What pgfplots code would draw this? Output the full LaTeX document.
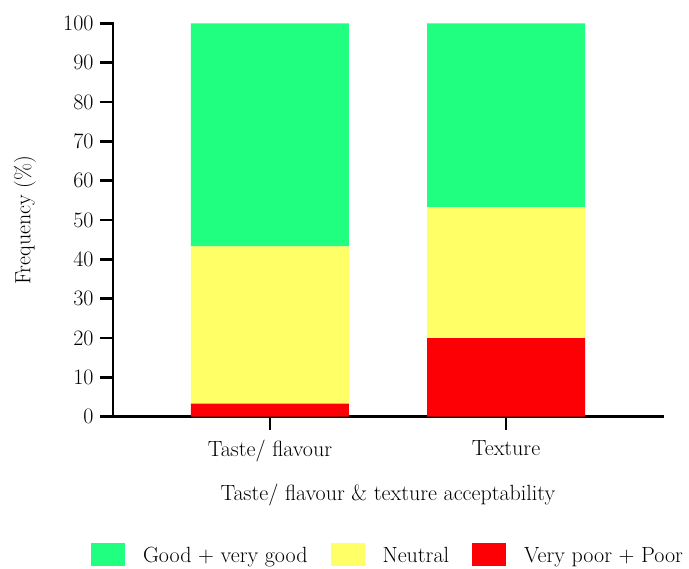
\documentclass[border=0pt]{standalone}
\usepackage{pgfplots}
\pgfplotsset{compat=1.18}
\definecolor{cgood}{RGB}{33,255,128}
\definecolor{cneut}{RGB}{255,255,102}
\definecolor{cpoor}{RGB}{252,0,6}
\newcommand{\ff}{\fontsize{22}{25}\selectfont}
\begin{document}
\begin{tikzpicture}
\path[use as bounding box] (0,0) rectangle (689pt,569pt);
\begin{axis}[
  at={(113pt,152.3pt)}, anchor=south west,
  scale only axis, width=550pt, height=393.4pt,
  xmin=-0.665, xmax=1.665, ymin=0, ymax=100,
  ybar stacked, bar width=158pt,
  axis x line*=bottom, axis y line*=left,
  axis line style={line width=2.6pt, line cap=rect},
  every tick/.style={black, line width=2.6pt},
  major tick length=13pt, tick align=outside,
  xtick={0,1}, xticklabels={Taste/ flavour, Texture},
  ytick={0,10,...,100},
  /pgf/number format/assume math mode=true,
  tick label style={font=\ff},
  yticklabel style={xshift=-3pt},
  xticklabel style={yshift=-7pt},
  label style={font=\ff},
  xlabel={Taste/ flavour \& texture acceptability},
  ylabel={Frequency (\%)},
  xlabel style={at={(axis description cs:0.5,-0.198)}, anchor=center},
  ylabel style={at={(axis description cs:-0.16,0.5)}, anchor=center},
  reverse legend,
  legend columns=3,
  legend style={at={(0.5,-0.351)}, anchor=center, draw=none, font=\ff,
    /tikz/every odd column/.append style={column sep=16pt},
    /tikz/every even column/.append style={column sep=21pt}},
  legend image code/.code={\fill[#1] (0pt,-11pt) rectangle (34pt,12pt);},
]
\addplot[fill=cpoor, draw=none] coordinates {(0,3.3) (1,20.0)};
\addplot[fill=cneut, draw=none] coordinates {(0,40.0) (1,33.3)};
\addplot[fill=cgood, draw=none] coordinates {(0,56.7) (1,46.7)};
\legend{Very poor + Poor, Neutral, Good + very good}
\end{axis}
\end{tikzpicture}
\end{document}
